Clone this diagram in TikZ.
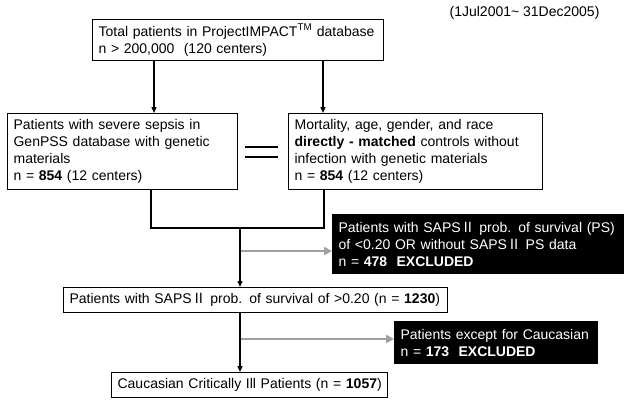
\documentclass[tikz,border=0pt]{standalone}
\usepackage{fontspec}
\setmainfont{Liberation Sans}
\newfontfamily\cjk{Noto Sans CJK JP}
\usetikzlibrary{arrows.meta}

\newcommand{\rtwo}{{\cjk Ⅱ}}

\tikzset{
  box/.style={draw, line width=1.2pt, anchor=north west, inner xsep=6pt,
    inner ysep=3pt, align=left, font=\fontsize{14}{17}\selectfont},
  exbox/.style={box, fill=black, text=white},
  arr/.style={line width=1.4pt, -{Triangle[length=6pt,width=5pt]}},
  joinline/.style={line width=1.4pt},
  grayarr/.style={line width=2.6pt, gray!75, -{Triangle[length=8pt,width=8pt]}}
}

\begin{document}
\begin{tikzpicture}[x=1pt,y=-1pt]
\useasboundingbox (0,0) rectangle (629,404);

\node[anchor=base east, font=\fontsize{14}{17}\selectfont] (period) at (603,17) {(1Jul2001\textasciitilde\ 31Dec2005)};

% boxes
\node[box, text width=279pt, minimum height=41pt] (total) at (92,19)
  {\mbox{Total patients in ProjectIMPACT\textsuperscript{TM} database}\\
   \mbox{n > 200,000\ \ (120 centers)}};
\node[box, text width=218pt, minimum height=76pt] (sepsis) at (7,113)
  {\mbox{Patients with severe sepsis in}\\ \mbox{GenPSS database with genetic}\\ materials\\
   \mbox{n = \textbf{854} (12 centers)}};
\node[box, text width=242pt, minimum height=76pt] (control) at (288,113)
  {\mbox{Mortality, age, gender, and race}\\ \mbox{\textbf{directly - matched} controls without}\\
   \mbox{infection with genetic materials}\\ \mbox{n = \textbf{854} (12 centers)}};
\node[exbox, text width=279pt, minimum height=59pt] (exps) at (332,214)
  {\mbox{Patients with SAPS\rtwo\ prob. of survival (PS)}\\
   \mbox{of <0.20 OR without SAPS\rtwo\ PS data}\\ \mbox{n = \textbf{478\ \ EXCLUDED}}};
\node[box, text width=372pt, minimum height=25pt] (saps) at (63,287)
  {\mbox{Patients with SAPS\rtwo\ prob. of survival of >0.20 (n = \textbf{1230})}};
\node[exbox, text width=191pt, minimum height=42pt] (exrace) at (394,321)
  {\mbox{Patients except for Caucasian}\\ \mbox{n = \textbf{173\ \ EXCLUDED}}};
\node[box, text width=264pt, minimum height=25pt] (final) at (111,372)
  {\mbox{Caucasian Critically Ill Patients (n = \textbf{1057})}};

\coordinate (xl) at (154,0);
\coordinate (xr) at (323,0);
\coordinate (join) at (240,228);
\coordinate (g1) at (241,251);
\coordinate (g2) at (241,339);

% arrows
\draw[arr] (total.south -| xl) -- (sepsis.north -| xl);
\draw[arr] (total.south -| xr) -- (control.north -| xr);
\draw[joinline] ([xshift=144pt]sepsis.south west) |- (join) -| ([xshift=36pt]control.south west);
\draw[arr] (join) -- (saps.north -| join);
\draw[grayarr] (g1) -- (exps.west |- g1);
\draw[arr] (saps.south -| join) -- (final.north -| join);
\draw[grayarr] (g2) -- (exrace.west |- g2);

% equals sign
\draw[line width=1.6pt] (245,147) -- (278,147);
\draw[line width=1.6pt] (245,157) -- (278,157);

\end{tikzpicture}
\end{document}
